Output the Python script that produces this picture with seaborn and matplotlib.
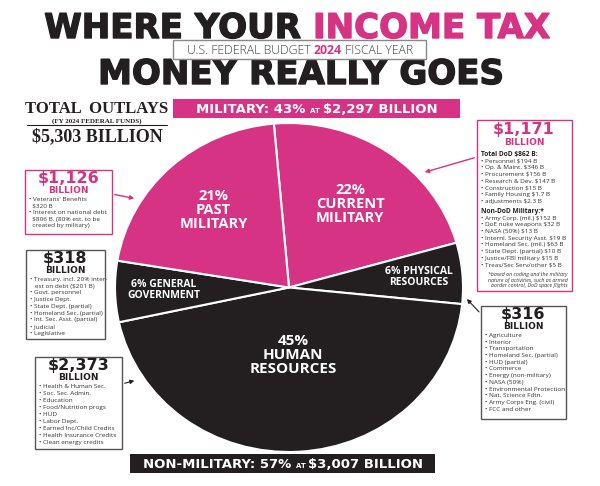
import numpy as np
import matplotlib
matplotlib.use("Agg")
import matplotlib.pyplot as plt
import matplotlib.patheffects as pe
import seaborn as sns
from matplotlib.patches import Rectangle

# ---- data ----
slice_names = ["CURRENT\nMILITARY", "PHYSICAL\nRESOURCES", "HUMAN\nRESOURCES",
               "GENERAL\nGOVERNMENT", "PAST\nMILITARY"]
slice_shares = [22, 6, 45, 6, 21]
slice_group = ["military", "non", "non", "non", "military"]

total_outlays = "$5,303"
military_pct, military_amt = 43, "$2,297"
nonmil_pct, nonmil_amt = 57, "$3,007"

past_mil_amt = "$1,126"
past_mil_items = ["• Veterans' Benefits", "  $320 B", "• Interest on national debt",
                  "  $806 B. (80% est. to be", "  created by military)"]

current_mil_amt = "$1,171"
dod_items = ["• Personnel $194 B", "• Op. & Maint. $346 B", "• Procurement $156 B",
             "• Research & Dev. $147 B", "• Construction $15 B", "• Family Housing $1.7 B",
             "• adjustments $2.3 B"]
nondod_items = ["• Army Corp. (mil.) $152 B", "• DoE nuke weapons $32 B", "• NASA (50%) $13 B",
                "• Internl. Security Asst. $19 B", "• Homeland Sec. (mil.) $63 B",
                "• State Dept. (partial) $10 B", "• Justice/FBI military $15 B",
                "• Treas/Sec Serv/other $5 B"]
footnote = ["*based on coding and the military", "nature of activities, such as armed",
            "border control, DoD space flights"]

gen_gov_amt = "$318"
gen_gov_items = ["• Treasury, incl. 20% inter-", "   est on debt ($201 B)", "• Govt. personnel",
                 "• Justice Dept.", "• State Dept. (partial)", "• Homeland Sec. (partial)",
                 "• Int. Sec. Asst. (partial)", "• Judicial", "• Legislative"]

human_amt = "$2,373"
human_items = ["• Health & Human Sec.", "• Soc. Sec. Admin.", "• Education",
               "• Food/Nutrition progs", "• HUD", "• Labor Dept.",
               "• Earned Inc/Child Credits", "• Health Insurance Credits", "• Clean energy credits"]

phys_amt = "$316"
phys_items = ["• Agriculture", "• Interior", "• Transportation", "• Homeland Sec. (partial)",
              "• HUD (partial)", "• Commerce", "• Energy (non-military)", "• NASA (50%)",
              "• Environmental Protection", "• Nat. Science Fdtn.", "• Army Corps Eng. (civil)",
              "• FCC and other"]

# ---- style ----
sns.set_theme(style="white")
PINK = "#D63384"
BLACK = "#231F20"
GREY = "#555555"
HEAVY = ["DejaVu Sans"]
SANS = ["Open Sans", "DejaVu Sans"]
SERIF = ["Liberation Serif", "DejaVu Serif"]
plt.rcParams["font.family"] = SANS


def fat(color, lw=1.0):
    return [pe.withStroke(linewidth=lw, foreground=color)]


fig = plt.figure(figsize=(6, 4.86), dpi=100)
W, H = 600, 486

# pie axes (stretched into an ellipse)
cx, cy, rx, ry = 289, 287.5, 174, 164.5
pie_ax = fig.add_axes([(cx - rx) / W, (H - cy - ry) / H, 2 * rx / W, 2 * ry / H])
colors = [PINK if g == "military" else BLACK for g in slice_group]
wedges, _ = pie_ax.pie(slice_shares, colors=colors, startangle=95, counterclock=False,
                       wedgeprops=dict(edgecolor="white", linewidth=1.5))
pie_ax.set_aspect("auto")
pie_ax.set_xlim(-1, 1)
pie_ax.set_ylim(-1, 1)

label_r = [0.62, 0.75, 0.41, 0.72, 0.64]
label_size = [10.5, 7.5, 11, 7.5, 10.5]
for w, name, share, r, fs in zip(wedges, slice_names, slice_shares, label_r, label_size):
    mid = np.deg2rad((w.theta1 + w.theta2) / 2)
    txt = f"{share}%\n{name}" if share >= 10 else f"{share}% {name}"
    pie_ax.text(r * np.cos(mid), r * np.sin(mid), txt, ha="center", va="center",
                color="white", fontsize=fs, fontweight="bold", family=SANS,
                linespacing=1.0)

# overlay axes in pixel coordinates
ax = fig.add_axes([0, 0, 1, 1])
ax.set_xlim(0, W)
ax.set_ylim(H, 0)
ax.axis("off")
renderer = fig.canvas.get_renderer()


def parts_text(x, y, parts, ha="center", zorder=5):
    objs, widths = [], []
    for s, props in parts:
        t = ax.text(0, y, s, ha="left", va="baseline", zorder=zorder, **props)
        objs.append(t)
        widths.append(t.get_window_extent(renderer=renderer).width)
    total = sum(widths)
    start = {"center": x - total / 2, "left": x, "right": x - total}[ha]
    for t, wd in zip(objs, widths):
        t.set_x(start)
        start += wd


heavy = dict(family=HEAVY, fontweight="bold")

# title
ax.text(313, 38, "WHERE YOUR ", ha="right", va="baseline", fontsize=24.5, color=BLACK,
        path_effects=fat(BLACK), **heavy)
ax.text(313, 38, "INCOME TAX", ha="left", va="baseline", fontsize=24.5, color=PINK,
        path_effects=fat(PINK), **heavy)
ax.text(301, 84, "MONEY REALLY GOES", ha="center", va="baseline", fontsize=24.5, color=BLACK,
        path_effects=fat(BLACK), **heavy)
ax.add_patch(Rectangle((173, 40), 253, 19, facecolor="white", edgecolor="#888888", lw=1, zorder=4))
thin = dict(family=SANS, fontweight="light", color="#444444", fontsize=8.8)
parts_text(300, 53.5, [("U.S. FEDERAL BUDGET ", thin),
                       ("2024", dict(family=SANS, fontweight="bold", color=PINK, fontsize=8.8)),
                       (" FISCAL YEAR", thin)])

# total outlays
ax.text(97, 113, "TOTAL  OUTLAYS", ha="center", va="baseline", fontsize=12,
        fontweight="bold", family=SERIF, color=BLACK)
ax.text(97, 122.5, "(FY 2024 FEDERAL FUNDS)", ha="center", va="baseline", fontsize=5,
        fontweight="bold", family=SERIF, color=BLACK)
ax.plot([27, 167], [125.5, 125.5], color=BLACK, lw=0.8)
ax.text(97, 141, f"{total_outlays} BILLION", ha="center", va="baseline", fontsize=13,
        fontweight="bold", family=SERIF, color=BLACK)

# banners
ax.add_patch(Rectangle((173, 99), 287, 19, facecolor=PINK, edgecolor="none", zorder=3))
big = dict(family=HEAVY, fontweight="bold", color="white", fontsize=9.5)
small = dict(family=HEAVY, fontweight="bold", color="white", fontsize=5)
parts_text(317, 113, [(f"MILITARY: {military_pct}% ", big), ("AT ", small),
                      (f"{military_amt} BILLION", big)])
ax.add_patch(Rectangle((130, 454), 305, 19, facecolor=BLACK, edgecolor="none", zorder=3))
parts_text(283, 468, [(f"NON-MILITARY: {nonmil_pct}% ", big), ("AT ", small),
                      (f"{nonmil_amt} BILLION", big)])


def callout(x0, y0, x1, y1, amt, color, edge, items, step=6.6, top_pad=13):
    ax.add_patch(Rectangle((x0, y0), x1 - x0, y1 - y0, facecolor="white",
                           edgecolor=edge, lw=1, zorder=3))
    xc = (x0 + x1) / 2
    ax.text(xc, y0 + top_pad, amt, ha="center", va="baseline", fontsize=11.5,
            color=color, zorder=5, **heavy)
    ax.text(xc, y0 + top_pad + 10, "BILLION", ha="center", va="baseline", fontsize=6.5,
            color=color, zorder=5, **heavy)
    y = y0 + top_pad + 18
    for it in items:
        ax.text(x0 + 4, y, it, ha="left", va="baseline", fontsize=4.6, color="#333333",
                family=SANS, zorder=5)
        y += step
    return y


callout(25, 170, 112, 234, past_mil_amt, PINK, PINK, past_mil_items, step=6.5)
callout(26, 250, 105, 339, gen_gov_amt, BLACK, GREY, gen_gov_items, step=6.7)
callout(35, 357, 122, 449, human_amt, BLACK, GREY, human_items, step=7.0)
callout(481, 306, 566, 419, phys_amt, BLACK, GREY, phys_items, step=6.7)

# current military box
x0, y0, x1, y1 = 477, 120, 572, 291
ax.add_patch(Rectangle((x0, y0), x1 - x0, y1 - y0, facecolor="white", edgecolor=PINK, lw=1, zorder=3))
ax.text(524, 134, current_mil_amt, ha="center", va="baseline", fontsize=11.5, color=PINK,
        zorder=5, **heavy)
ax.text(524, 145, "BILLION", ha="center", va="baseline", fontsize=6.5, color=PINK,
        zorder=5, **heavy)
ax.text(x0 + 4, 155.5, "Total DoD $862 B:", ha="left", va="baseline", fontsize=4.8,
        fontweight="bold", color=BLACK, zorder=5)
y = 162.5
for it in dod_items:
    ax.text(x0 + 4, y, it, ha="left", va="baseline", fontsize=4.6, color="#333333", zorder=5)
    y += 6.7
ax.text(x0 + 4, 212.5, "Non-DoD Military:*", ha="left", va="baseline", fontsize=4.8,
        fontweight="bold", color=BLACK, zorder=5)
y = 219.5
for it in nondod_items:
    ax.text(x0 + 4, y, it, ha="left", va="baseline", fontsize=4.6, color="#333333", zorder=5)
    y += 6.7
y = 276
for it in footnote:
    ax.text(x1 - 4, y, it, ha="right", va="baseline", fontsize=3.8, style="italic",
            color="#333333", zorder=5)
    y += 5.5

# arrows
arrow_pink = dict(arrowstyle="-|>", color=PINK, lw=1, mutation_scale=6)
arrow_dark = dict(arrowstyle="-|>", color=BLACK, lw=0.8, mutation_scale=6)
ax.annotate("", xy=(137, 199), xytext=(112, 194), arrowprops=arrow_pink)
ax.annotate("", xy=(422, 173), xytext=(477, 157), arrowprops=arrow_pink)
ax.annotate("", xy=(137, 380), xytext=(122, 384), arrowprops=arrow_dark)
ax.annotate("", xy=(465, 297), xytext=(481, 314), arrowprops=arrow_dark)

fig.savefig("out.png", dpi=100, facecolor="white")
